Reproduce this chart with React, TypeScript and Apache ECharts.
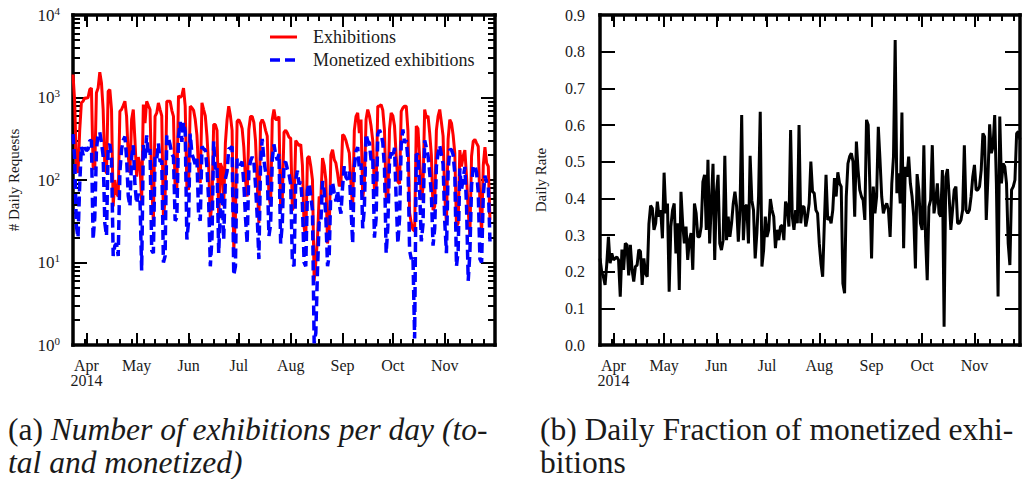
import React, { useEffect, useRef } from 'react';
import * as echarts from 'echarts';

// ---------- data ----------
const startDate = '2014-03-24';

// daily totals (Mon Mar 24 2014 .. Fri Nov 28 2014), one row per week
const exhibitions = [
  1900, 900, 150, 122, 400, 860, 900,
  990, 980, 1000, 1250, 1300, 146, 134,
  1140, 1300, 2030, 1500, 715, 146, 120,
  1190, 1250, 715, 48, 100, 70, 63,
  680, 715, 800, 900, 590, 194, 122,
  540, 715, 300, 110, 190, 150, 55,
  820, 490, 900, 800, 715, 92, 30,
  590, 650, 860, 715, 600, 33, 60,
  900, 900, 900, 700, 590, 73, 76,
  1050, 1000, 1050, 1300, 785, 84, 76,
  785, 750, 700, 540, 350, 134, 92,
  860, 715, 600, 340, 150, 33, 53,
  470, 470, 400, 33, 160, 140, 48,
  280, 540, 785, 600, 400, 14, 36,
  515, 540, 490, 420, 250, 100, 63,
  410, 590, 590, 500, 300, 92, 30,
  490, 540, 490, 400, 340, 63, 48,
  540, 715, 540, 540, 590, 43, 60,
  380, 400, 370, 330, 320, 43, 50,
  300, 280, 260, 270, 150, 27, 19,
  185, 194, 146, 100, 6, 10, 20,
  63, 58, 185, 150, 100, 17, 25,
  200, 233, 177, 160, 120, 84, 90,
  355, 340, 300, 250, 212, 92, 43,
  400, 590, 650, 370, 540, 60, 90,
  540, 715, 600, 450, 300, 76, 70,
  785, 785, 820, 700, 400, 63, 58,
  410, 650, 600, 450, 194, 95, 90,
  680, 750, 785, 785, 400, 40, 30,
  25, 24, 450, 420, 185, 57, 80,
  715, 570, 600, 370, 200, 43, 48,
  400, 590, 715, 500, 340, 63, 30,
  310, 540, 490, 350, 212, 27, 30,
  230, 146, 194, 230, 110, 43, 21,
  194, 295, 310, 280, 255, 52, 23,
  150, 250, 160, 146, 33,
];

const monetized = [
  360, 180, 28, 20, 88, 254, 200,
  248, 227, 236, 300, 302, 19, 35,
  234, 360, 380, 285, 195, 30, 21,
  255, 272, 186, 12, 16, 17, 12,
  126, 236, 304, 336, 185, 64, 48,
  189, 263, 87, 52, 68, 58, 8,
  265, 180, 347, 200, 237, 14, 13,
  196, 180, 278, 166, 172, 10, 12,
  347, 323, 266, 207, 190, 32, 35,
  330, 505, 291, 502, 388, 19, 31,
  364, 208, 181, 154, 181, 38, 32,
  254, 237, 232, 142, 57, 9, 20,
  295, 134, 151, 13, 44, 72, 19,
  103, 127, 239, 243, 254, 7, 9,
  180, 159, 154, 167, 92, 35, 17,
  129, 169, 191, 164, 86, 36, 11,
  158, 316, 172, 126, 125, 21, 29,
  179, 270, 204, 174, 207, 17, 30,
  159, 166, 136, 118, 89, 10, 9,
  100, 130, 89, 95, 50, 10, 9,
  75, 91, 64, 43, 1.05, 1.4, 8,
  31, 30, 97, 75, 35, 9, 12,
  85, 94, 70, 55, 74, 50, 39,
  84, 147, 108, 101, 126, 46, 17,
  144, 222, 251, 136, 159, 26, 46,
  360, 296, 281, 174, 190, 20, 34,
  360, 403, 362, 284, 140, 13, 27,
  173, 216, 188, 245, 57, 17, 34,
  269, 409, 282, 307, 176, 14, 11,
  12, 1.2, 207, 202, 75, 18, 29,
  302, 246, 199, 123, 68, 16, 26,
  147, 212, 263, 203, 156, 31, 13,
  131, 233, 234, 202, 120, 9, 14,
  138, 76, 105, 144, 49, 6, 13,
  86, 146, 151, 123, 71, 11, 10,
  65, 113, 92, 85, 18,
];

const dailyRate = [
  0.236, 0.2, 0.186, 0.164, 0.22, 0.295, 0.223, 0.25, 0.232, 0.236,
  0.24, 0.232, 0.132, 0.26, 0.205, 0.277, 0.273, 0.19, 0.273, 0.205,
  0.173, 0.214, 0.218, 0.26, 0.255, 0.164, 0.236, 0.195, 0.186, 0.33,
  0.38,
  0.373, 0.314, 0.332, 0.391, 0.35, 0.368, 0.291, 0.47, 0.359, 0.386,
  0.145, 0.323, 0.368, 0.386, 0.25, 0.332, 0.15, 0.418, 0.332, 0.277,
  0.323, 0.232, 0.286, 0.305, 0.205, 0.386, 0.359, 0.295, 0.295, 0.323,
  0.445, 0.464, 0.314, 0.505, 0.277, 0.386, 0.494, 0.232, 0.414, 0.464,
  0.277, 0.259, 0.286, 0.516, 0.286, 0.35, 0.295, 0.332, 0.386, 0.418,
  0.377, 0.282, 0.368, 0.627, 0.286, 0.377, 0.382, 0.277, 0.516, 0.395,
  0.368, 0.236, 0.305, 0.405, 0.636, 0.214, 0.259, 0.35, 0.295, 0.314,
  0.398, 0.368, 0.35, 0.264, 0.314, 0.286, 0.323, 0.327, 0.286, 0.391,
  0.377, 0.323, 0.586, 0.35, 0.314, 0.368, 0.332, 0.6, 0.332, 0.377,
  0.377, 0.323, 0.35, 0.386, 0.5, 0.418, 0.414, 0.368, 0.359, 0.277,
  0.223, 0.186, 0.332, 0.464, 0.341, 0.35, 0.332, 0.368, 0.455, 0.405,
  0.471, 0.441, 0.432, 0.168, 0.141, 0.405, 0.495, 0.514, 0.523, 0.5,
  0.35, 0.555, 0.477, 0.423, 0.405, 0.395, 0.341, 0.614, 0.6, 0.432,
  0.236, 0.432, 0.359, 0.405, 0.595, 0.505, 0.405, 0.359, 0.377, 0.386,
  0.368, 0.295, 0.441, 0.514, 0.832, 0.414, 0.468, 0.386, 0.634, 0.264,
  0.486, 0.459, 0.514, 0.441, 0.405, 0.35, 0.209, 0.466, 0.423, 0.332,
  0.314, 0.545, 0.295, 0.177, 0.377, 0.395, 0.545, 0.359, 0.391, 0.441,
  0.359, 0.35, 0.477, 0.05, 0.459, 0.48, 0.405, 0.314, 0.368, 0.423,
  0.432, 0.332, 0.332, 0.341, 0.368, 0.545, 0.368, 0.359, 0.368, 0.405,
  0.459, 0.491, 0.423, 0.423, 0.432, 0.477, 0.577, 0.568, 0.341, 0.459,
  0.602, 0.523, 0.541, 0.627, 0.441, 0.132, 0.623, 0.441, 0.495, 0.486,
  0.441, 0.277, 0.218, 0.423, 0.432, 0.45, 0.577, 0.582, 0.56,
];

const monthTickDates = ['2014-04-01', '2014-05-01', '2014-06-01', '2014-07-01', '2014-08-01', '2014-09-01', '2014-10-01', '2014-11-01'];
const monthTickLabels = ['Apr\n2014', 'May', 'Jun', 'Jul', 'Aug', 'Sep', 'Oct', 'Nov'];
const leftRange = ['2014-03-24', '2014-12-01'];
const rightRange = ['2014-03-24', '2014-11-28'];
const logMinorTicks = [2, 3, 4, 5, 6, 7, 8, 9, 20, 30, 40, 50, 60, 70, 80, 90, 200, 300, 400, 500, 600, 700, 800, 900, 2000, 3000, 4000, 5000, 6000, 7000, 8000, 9000];
const seriesNames = ['Exhibitions', 'Monetized exhibitions'];
const captionA = ['(a) ', 'Number of exhibitions per day (to-', 'tal and monetized)'];
const captionB = ['(b) Daily Fraction of monetized exhi-', 'bitions'];

// ---------- helpers ----------
const DAY = 86400000;
const parseDay = (s: string) => {
  const [y, m, d] = s.split('-').map(Number);
  return Date.UTC(y, m - 1, d);
};
const t0 = parseDay(startDate);
const dayTs = (i: number) => t0 + i * DAY;
const monthTs = monthTickDates.map(parseDay);
const mondayTs: number[] = [];
for (let i = 7; i < 260; i += 7) mondayTs.push(dayTs(i));

const FONT = 'Liberation Serif';
const INK = '#1a1a1a';
const CAP = 31.5;

const monthFmt = (v: number) => {
  const idx = monthTs.findIndex((t) => Math.abs(t - v) < DAY / 2);
  return idx >= 0 ? monthTickLabels[idx] : '';
};

function makeXAxes(grid: number, range: string[]) {
  const base = {
    type: 'value',
    gridIndex: grid,
    min: parseDay(range[0]),
    max: parseDay(range[1]),
    splitLine: { show: false },
  };
  const spine = { show: true, onZero: false, lineStyle: { color: '#000', width: 3.5, cap: 'square' } };
  const noLine = { show: false, onZero: false };
  const majorTick = { show: true, inside: true, length: 12, customValues: monthTs, lineStyle: { color: '#000', width: 2 } };
  const minorTick = { show: true, inside: true, length: 6, customValues: mondayTs, lineStyle: { color: '#000', width: 2 } };
  return [
    {
      ...base, position: 'bottom', axisLine: spine, axisTick: majorTick,
      axisLabel: {
        show: true, customValues: monthTs, formatter: monthFmt, margin: 13,
        fontFamily: FONT, fontSize: 16, color: INK, lineHeight: 15,
      },
    },
    { ...base, position: 'bottom', axisLine: noLine, axisTick: minorTick, axisLabel: { show: false } },
    { ...base, position: 'top', axisLine: spine, axisTick: majorTick, axisLabel: { show: false } },
    { ...base, position: 'top', axisLine: noLine, axisTick: minorTick, axisLabel: { show: false } },
  ];
}

const logLabelFmt = (v: number) => `{b|10}{s|${Math.round(Math.log10(v))}}`;

const titleText = (text: string, left: number, top: number, size: number, lh: number, rich?: any) => ({
  text, left, top, padding: 0, itemGap: 0,
  textStyle: { fontFamily: FONT, fontSize: size, fontWeight: 'normal', color: INK, lineHeight: lh, rich },
});

export default function App() {
  const ref = useRef<HTMLDivElement>(null);
  useEffect(() => {
    if (!ref.current) return;
    const chart = echarts.init(ref.current, null, { renderer: 'svg' });

    const exData = exhibitions.map((v, i) => [dayTs(i), v]);
    const monData = monetized.map((v, i) => [dayTs(i), v]);
    const rateData = dailyRate.map((v, i) => [dayTs(i), v]);

    const spine = { show: true, onZero: false, lineStyle: { color: '#000', width: 3.5, cap: 'square' } };
    const tickStyle = { color: '#000', width: 2 };
    const logBase = { type: 'log', logBase: 10, gridIndex: 0, min: 1, max: 10000, splitLine: { show: false } };
    const rateBase = { type: 'value', gridIndex: 1, min: 0, max: 0.9, interval: 0.1, splitLine: { show: false } };

    const capRich = {
      r: { fontFamily: FONT, fontSize: CAP, lineHeight: 33, color: INK },
      i: { fontFamily: FONT, fontSize: CAP, lineHeight: 33, color: INK, fontStyle: 'italic' },
    };

    const option: any = {
      animation: false,
      backgroundColor: '#fff',
      textStyle: { fontFamily: FONT },
      title: [
        titleText(seriesNames[0], 313, 27, 18, 20),
        titleText(seriesNames[1], 313, 50, 18, 20),
        titleText(`{r|${captionA[0]}}{i|${captionA[1]}}\n{i|${captionA[2]}}`, 8, 413, CAP, 33, capRich),
        titleText(`{r|${captionB[0]}}\n{r|${captionB[1]}}`, 540, 413, CAP, 33, capRich),
      ],
      grid: [
        { left: 73, top: 15, width: 422, height: 330 },
        { left: 600, top: 15, width: 420, height: 330 },
      ],
      xAxis: [...makeXAxes(0, leftRange), ...makeXAxes(1, rightRange)],
      yAxis: [
        {
          ...logBase, position: 'left', axisLine: spine,
          axisTick: { show: true, inside: true, length: 14, lineStyle: tickStyle },
          axisLabel: {
            show: true, margin: 13, formatter: logLabelFmt,
            rich: {
              b: { fontFamily: FONT, fontSize: 17, color: INK, lineHeight: 20 },
              s: { fontFamily: FONT, fontSize: 11, color: INK, verticalAlign: 'top', lineHeight: 12 },
            },
          },
          name: '# Daily Requests', nameLocation: 'middle', nameGap: 52,
          nameTextStyle: { fontFamily: FONT, fontSize: 15, color: INK },
        },
        {
          ...logBase, position: 'left', axisLine: { show: false, onZero: false },
          axisTick: { show: true, inside: true, length: 7, customValues: logMinorTicks, lineStyle: tickStyle },
          axisLabel: { show: false },
        },
        {
          ...logBase, position: 'right', axisLine: spine,
          axisTick: { show: true, inside: true, length: 14, lineStyle: tickStyle },
          axisLabel: { show: false },
        },
        {
          ...logBase, position: 'right', axisLine: { show: false, onZero: false },
          axisTick: { show: true, inside: true, length: 7, customValues: logMinorTicks, lineStyle: tickStyle },
          axisLabel: { show: false },
        },
        {
          ...rateBase, position: 'left', axisLine: spine,
          axisTick: { show: true, inside: true, length: 15, lineStyle: tickStyle },
          axisLabel: {
            show: true, margin: 15, formatter: (v: number) => v.toFixed(1),
            fontFamily: FONT, fontSize: 16, color: INK,
          },
          name: 'Daily Rate', nameLocation: 'middle', nameGap: 52,
          nameTextStyle: { fontFamily: FONT, fontSize: 15, color: INK },
        },
        {
          ...rateBase, position: 'right', axisLine: spine,
          axisTick: { show: true, inside: true, length: 15, lineStyle: tickStyle },
          axisLabel: { show: false },
        },
      ],
      series: [
        {
          name: seriesNames[0], type: 'line', xAxisIndex: 0, yAxisIndex: 0,
          data: exData, showSymbol: false, symbol: 'none',
          lineStyle: { color: '#ff0000', width: 3 }, itemStyle: { color: '#ff0000' }, z: 2,
        },
        {
          name: seriesNames[1], type: 'line', xAxisIndex: 0, yAxisIndex: 0,
          data: monData, showSymbol: false, symbol: 'none',
          lineStyle: { color: '#0000ff', width: 3.5, type: [10, 5] }, itemStyle: { color: '#0000ff' }, z: 3,
        },
        {
          name: 'Daily Rate', type: 'line', xAxisIndex: 4, yAxisIndex: 4,
          data: rateData, showSymbol: false, symbol: 'none',
          lineStyle: { color: '#000', width: 3 }, itemStyle: { color: '#000' },
        },
      ],
      graphic: [
        // legend samples
        { type: 'line', silent: true, shape: { x1: 270, y1: 37, x2: 297, y2: 37 }, style: { stroke: '#ff0000', lineWidth: 3 } },
        { type: 'line', silent: true, shape: { x1: 270, y1: 60, x2: 297, y2: 60 }, style: { stroke: '#0000ff', lineWidth: 3.5, lineDash: [10, 5] } },
      ],
    };
    chart.setOption(option);
    return () => chart.dispose();
  }, []);

  return (
    <div
      ref={ref}
      style={{ position: 'fixed', left: 0, top: 0, width: 1022, height: 479, background: '#fff' }}
    />
  );
}
